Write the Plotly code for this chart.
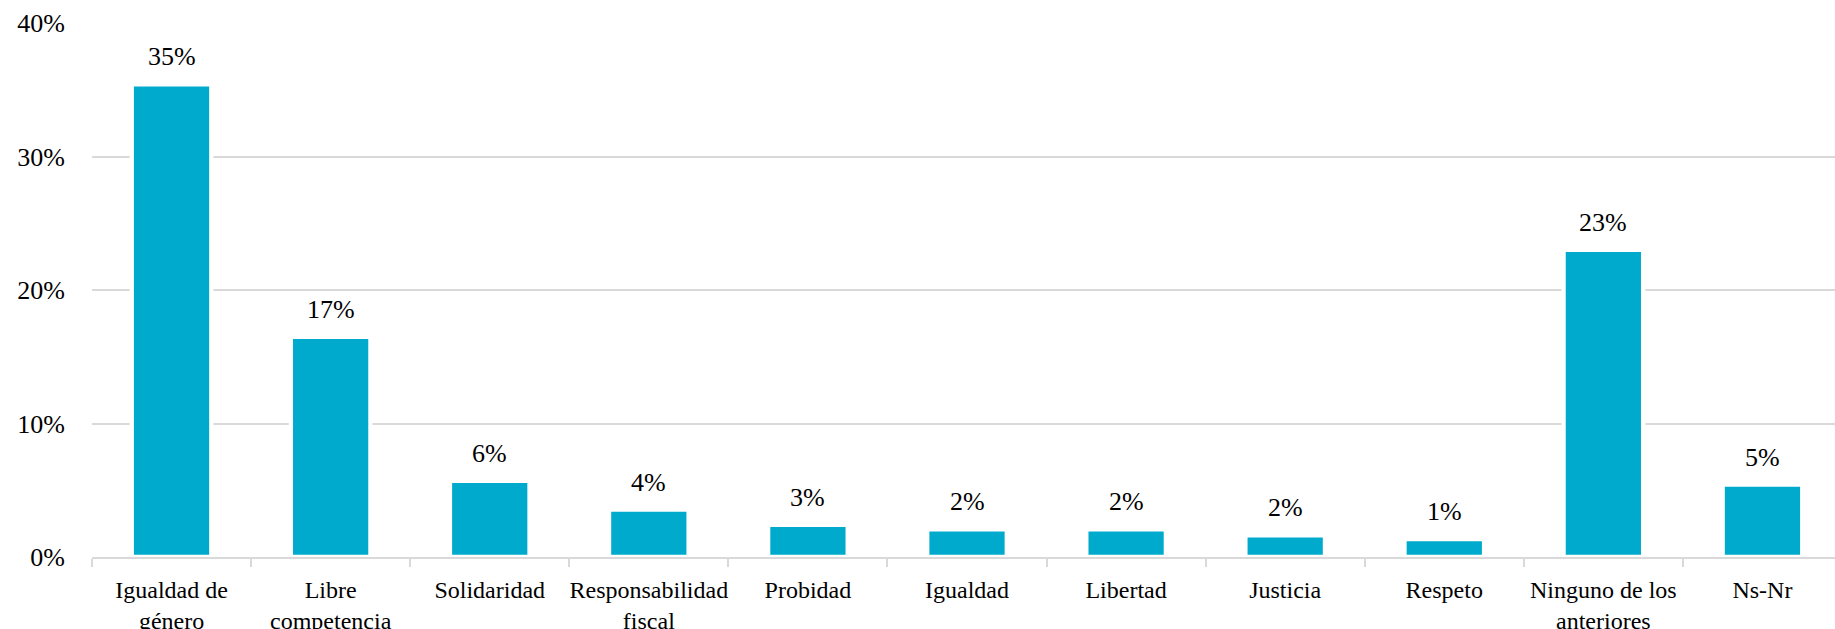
import plotly.graph_objects as go

categories = ["Igualdad de<br>género", "Libre<br>competencia", "Solidaridad",
              "Responsabilidad<br>fiscal", "Probidad", "Igualdad", "Libertad",
              "Justicia", "Respeto", "Ninguno de los<br>anteriores", "Ns-Nr"]
values = [35.4, 16.5, 5.7, 3.55, 2.4, 2.08, 2.08, 1.62, 1.35, 23.0, 5.43]
labels = ["35%", "17%", "6%", "4%", "3%", "2%", "2%", "2%", "1%", "23%", "5%"]
y_ticks = [0, 10, 20, 30, 40]
y_tick_text = ["0%", "10%", "20%", "30%", "40%"]

FONT = "'Liberation Serif', 'DejaVu Serif', serif"
BAR = "#00AACD"
GRID = "#D9D9D9"

fig = go.Figure()
fig.add_trace(go.Bar(
    x=list(range(len(categories))), y=values,
    width=0.5,
    marker=dict(color=BAR, line=dict(color="white", width=4.3)),
    hoverinfo="skip",
))

for i, (v, t) in enumerate(zip(values, labels)):
    fig.add_annotation(x=i, y=v, text=t, showarrow=False, yanchor="middle",
                       yshift=27.5, font=dict(family=FONT, size=26, color="#000000"))

fig.update_layout(
    width=1835, height=629,
    margin=dict(l=92, r=0, t=23, b=72, autoexpand=False),
    paper_bgcolor="white", plot_bgcolor="white",
    showlegend=False,
    font=dict(family=FONT, color="#000000"),
)
fig.update_xaxes(
    tickmode="array", tickvals=list(range(len(categories))), ticktext=categories,
    range=[-0.5, 10.456], automargin=False,
    showgrid=False, zeroline=False,
    showline=True, linecolor=GRID, linewidth=1.5,
    tickfont=dict(family=FONT, size=24, color="#000000"),
    ticks="", ticklabelstandoff=10,
    minor=dict(tickvals=[i - 0.5 for i in range(len(categories) + 1)],
               ticks="outside", ticklen=8, tickcolor=GRID, tickwidth=1.5,
               showgrid=False),
)
fig.update_yaxes(
    range=[0, 40], tickmode="array", tickvals=y_ticks, ticktext=y_tick_text,
    showgrid=True, gridcolor=GRID, gridwidth=1.5, automargin=False,
    zeroline=False, showline=False, ticks="",
    ticklabelstandoff=26,
    tickfont=dict(family=FONT, size=26, color="#000000"),
)

fig.write_html("out.html", config={"displayModeBar": False},
               post_script="document.body.style.margin='0';document.body.style.overflow='hidden';")
